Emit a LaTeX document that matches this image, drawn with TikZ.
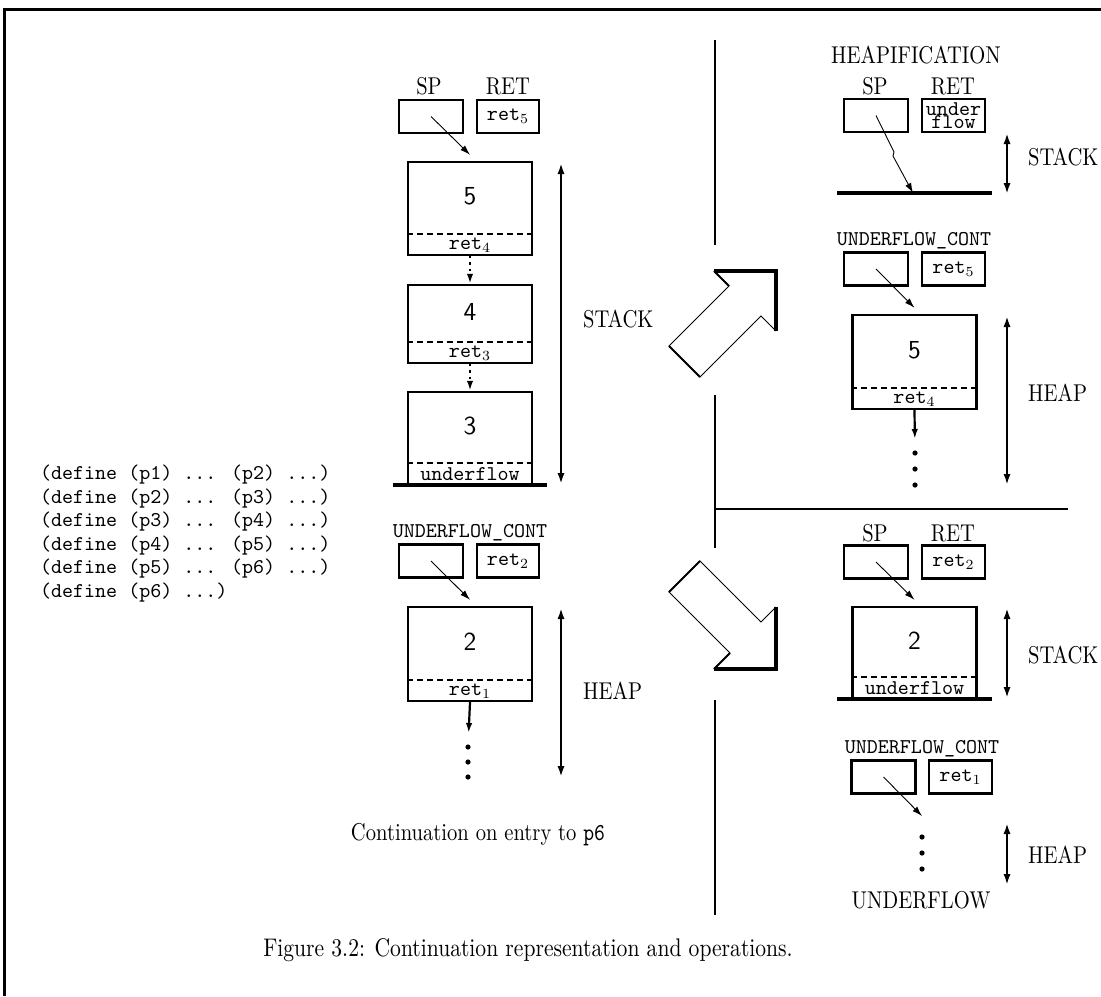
\documentclass[tikz,border=0pt]{standalone}
\usepackage{graphicx}
\usetikzlibrary{arrows.meta}

\newcommand\lb[1]{\scalebox{1}[1.18]{#1}}

\begin{document}
\begin{tikzpicture}[x=0.5pt,y=-0.5pt,
    reg/.style={draw,line width=1.1pt,minimum width=32pt,minimum height=16.5pt,inner sep=0pt},
    frm/.style={draw,line width=1.2pt,minimum width=62pt,inner sep=0pt},
    cut/.style={line width=1.1pt,dash pattern=on 3pt off 2pt},
    num/.style={font=\sffamily\fontsize{13}{13}\selectfont},
    tt/.style={font=\ttfamily\fontsize{10.5}{12}\selectfont},
    lbl/.style={font=\rmfamily\fontsize{10.3}{12}\selectfont},
    dot/.style={circle,fill,inner sep=0pt,minimum size=2.6pt},
    ptr/.style={-{Latex[length=5pt,width=3.2pt]},line width=0.45pt},
    link/.style={-{Latex[length=5pt,width=3.2pt]},line width=1.1pt},
    chain/.style={link,dotted},
    span/.style={{Latex[length=5.5pt,width=3.6pt]}-{Latex[length=5.5pt,width=3.6pt]},line width=1.2pt},
    floor/.style={line width=2pt},
    wall/.style={line width=1pt}]

    \useasboundingbox (0,0) rectangle (1101,996);
    \draw[line width=1.5pt] (4,996) -- (4,9) -- (1101,9);

    % program text
    \node[tt,anchor=west] (p1) at (33,475) {(define (p1) ... (p2) ...)};
    \node[tt,anchor=west] (p2) at (33,498.5) {(define (p2) ... (p3) ...)};
    \node[tt,anchor=west] (p3) at (33,522) {(define (p3) ... (p4) ...)};
    \node[tt,anchor=west] (p4) at (33,545.5) {(define (p4) ... (p5) ...)};
    \node[tt,anchor=west] (p5) at (33,569) {(define (p5) ... (p6) ...)};
    \node[tt,anchor=west] (p6) at (33,592.5) {(define (p6) ...)};

    % continuation on entry to p6
    \node[lbl] (a1) at (429,86) {\lb{SP}};
    \node[lbl] (a2) at (508,86) {\lb{RET}};
    \node[reg] (a3) at (431,116.5) {};
    \node[reg,tt,minimum width=31pt] (a4) at (508,116.5) {ret$_5$};

    \node[frm,minimum height=46.5pt] (f5) at (470,208.5) {};
    \draw[cut] ([yshift=11pt]f5.south west) -- ([yshift=11pt]f5.south east);
    \node[num] (n5) at ([yshift=-17.75pt]f5.north) {5};
    \node[tt] (r4) at ([yshift=5.5pt]f5.south) {ret$_4$};

    \node[frm,minimum height=39pt] (f4) at (470,324) {};
    \draw[cut] ([yshift=11pt]f4.south west) -- ([yshift=11pt]f4.south east);
    \node[num] (n4) at ([yshift=-14pt]f4.north) {4};
    \node[tt] (r3) at ([yshift=5.5pt]f4.south) {ret$_3$};

    \node[frm,minimum height=46pt] (f3) at (470,438) {};
    \draw[cut] ([yshift=11pt]f3.south west) -- ([yshift=11pt]f3.south east);
    \node[num] (n3) at ([yshift=-17.5pt]f3.north) {3};
    \node[tt] (r2) at ([yshift=5.5pt]f3.south) {underflow};
    \draw[floor] (393,485) -- (547,485);

    \draw[ptr] (a3.center) -- ([yshift=3pt]f5.north);
    \draw[chain] (f5.south) -- (f4.north);
    \draw[chain] (f4.south) -- (f3.north);

    \coordinate (s1) at (561,163);
    \coordinate (s2) at (561,484);
    \draw[span] (s1) -- (s2);
    \node[lbl,anchor=west] (s3) at (576,319) {\lb{STACK}};

    \node[tt] (b1) at (470,533) {UNDERFLOW\_CONT};
    \node[reg] (b2) at (431,561) {};
    \node[reg,tt,minimum width=31pt] (b3) at (508,561) {ret$_2$};

    \node[frm,minimum height=47pt] (f2) at (470,654) {};
    \draw[cut] ([yshift=11pt]f2.south west) -- ([yshift=11pt]f2.south east);
    \node[num] (n2) at ([yshift=-18pt]f2.north) {2};
    \node[tt] (r1) at ([yshift=5.5pt]f2.south) {ret$_1$};

    \node[dot] (e1) at (468,747) {};
    \node[dot] (e2) at (468,762) {};
    \node[dot] (e3) at (468,777) {};
    \draw[ptr] (b2.center) -- ([yshift=3pt]f2.north);
    \draw[link,shorten >=5.5pt] (f2.south) -- (e1);

    \coordinate (h1) at (561,608);
    \coordinate (h2) at (561,777);
    \draw[span] (h1) -- (h2);
    \node[lbl,anchor=west] (h3) at (576,691) {\lb{HEAP}};

    \node[lbl] (c1) at (478,835) {\lb{Continuation on entry to \texttt{p6}}};

    % the two operations
    \draw[line width=0.5pt] (714,271) -- (729,286) -- (669,346) -- (700,377) -- (761,316) -- (776,331);
    \draw[line width=1pt] (714,271) -- (729,286) (669,346) -- (700,377);
    \draw[line width=1.6pt] (714,271) -- (776,271) -- (776,331);

    \draw[line width=0.5pt] (714,669) -- (730,653) -- (669,592) -- (700,561) -- (761,622) -- (776,607);
    \draw[line width=1pt] (714,669) -- (730,653) (669,592) -- (700,561);
    \draw[line width=1.6pt] (714,669) -- (776,669) -- (776,607);

    \draw[wall] (715,40) -- (715,245);
    \draw[wall] (715,395) -- (715,548);
    \draw[wall] (715,700) -- (715,915);
    \draw[wall] (715,509) -- (1068,509);

    % heapification
    \node[lbl] (g1) at (916,55) {\lb{HEAPIFICATION}};
    \node[lbl] (g2) at (875,86) {\lb{SP}};
    \node[lbl] (g3) at (953,86) {\lb{RET}};
    \node[reg] (g4) at (876,115.5) {};
    \node[reg,minimum width=31.5pt] (g5) at (953.5,115.5) {};
    \node[tt,inner sep=0pt] (g6) at ([yshift=3.2pt]g5.center) {under};
    \node[tt,inner sep=0pt] (g7) at ([yshift=-3.2pt]g5.center) {flow};
    \coordinate (g8) at (913,193);
    \draw[floor] (837,193) -- (992,193);
    \draw[ptr] (g4.center) -- (894,152) -- (893,156) -- (g8);
    \coordinate (t1) at (1007,133);
    \coordinate (t2) at (1007,194);
    \draw[span] (t1) -- (t2);
    \node[lbl,anchor=west] (t3) at (1021,157) {\lb{STACK}};

    \node[tt] (k1) at (914,241) {UNDERFLOW\_CONT};
    \node[reg] (k2) at (876,269) {};
    \node[reg,tt,minimum width=31.5pt] (k3) at (953.5,269) {ret$_5$};
    \node[frm,minimum height=47pt] (q5) at (914.5,362) {};
    \draw[cut] ([yshift=11pt]q5.south west) -- ([yshift=11pt]q5.south east);
    \node[num] (m5) at ([yshift=-18pt]q5.north) {5};
    \node[tt] (m4) at ([yshift=5.5pt]q5.south) {ret$_4$};
    \node[dot] (k4) at (915,453) {};
    \node[dot] (k5) at (915,469) {};
    \node[dot] (k6) at (915,485) {};
    \draw[ptr] (k2.center) -- ([yshift=3pt]q5.north);
    \draw[link,shorten >=5.5pt] (q5.south) -- (k4);
    \coordinate (u1) at (1007,316);
    \coordinate (u2) at (1007,485);
    \draw[span] (u1) -- (u2);
    \node[lbl,anchor=west] (u3) at (1021,393) {\lb{HEAP}};

    % underflow
    \node[lbl] (v1) at (875,533) {\lb{SP}};
    \node[lbl] (v2) at (953,533) {\lb{RET}};
    \node[reg] (v3) at (876,562) {};
    \node[reg,tt,minimum width=31.5pt] (v4) at (953.5,562) {ret$_2$};
    \node[frm,minimum height=45.5pt] (q2) at (914.5,652.5) {};
    \draw[cut] ([yshift=11pt]q2.south west) -- ([yshift=11pt]q2.south east);
    \node[num] (m2) at ([yshift=-17.25pt]q2.north) {2};
    \node[tt] (m1) at ([yshift=5.5pt]q2.south) {underflow};
    \draw[floor] (837,699) -- (992,699);
    \draw[ptr] (v3.center) -- ([yshift=3pt]q2.north);
    \coordinate (w1) at (1007,608);
    \coordinate (w2) at (1007,698);
    \draw[span] (w1) -- (w2);
    \node[lbl,anchor=west] (w3) at (1021,655) {\lb{STACK}};

    \node[tt] (x1) at (922,749) {UNDERFLOW\_CONT};
    \node[reg] (x2) at (883.5,777) {};
    \node[reg,tt,minimum width=31.5pt] (x3) at (960.5,777) {ret$_1$};
    \coordinate (x4) at (922,816);
    \node[dot] (x5) at (922,837) {};
    \node[dot] (x6) at (922,853) {};
    \node[dot] (x7) at (922,869) {};
    \draw[ptr] (x2.center) -- (x4);
    \coordinate (y1) at (1007,823);
    \coordinate (y2) at (1007,885);
    \draw[span] (y1) -- (y2);
    \node[lbl,anchor=west] (y3) at (1021,855) {\lb{HEAP}};
    \node[lbl] (y4) at (921,900) {\lb{UNDERFLOW}};

    \node[lbl,font=\rmfamily\fontsize{10.8}{13}\selectfont] (z) at (528,950) {\lb{Figure 3.2: Continuation representation and operations.}};
\end{tikzpicture}
\end{document}
